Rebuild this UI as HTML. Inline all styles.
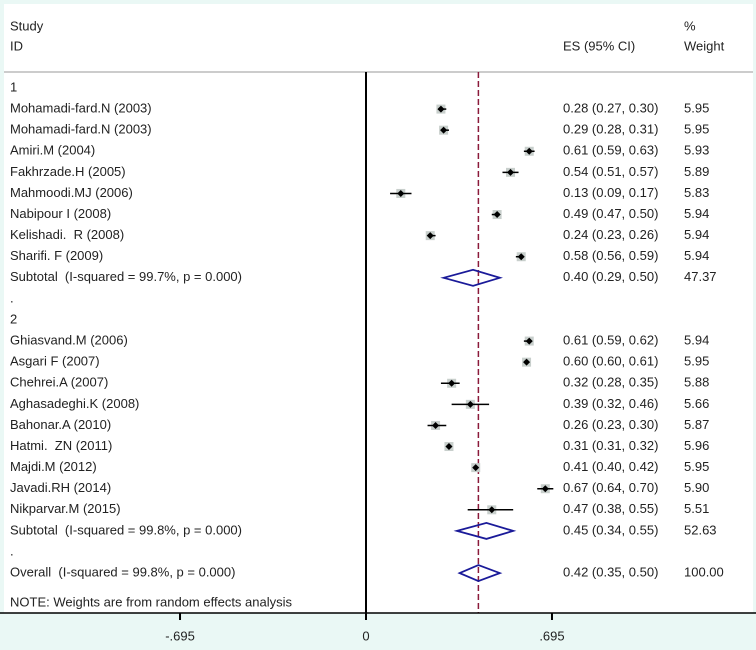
<!DOCTYPE html>
<html><head><meta charset="utf-8"><style>
html,body{margin:0;padding:0;background:#eaf8f5;}
svg{display:block;font-family:"Liberation Sans",sans-serif;}
text{white-space:pre;}
</style></head><body>
<svg id="c" width="756" height="650">
<rect x="4" y="4" width="749" height="609" fill="#fff"/>
</svg>
<script>
const labels=["1","Mohamadi-fard.N (2003)","Mohamadi-fard.N (2003)","Amiri.M (2004)","Fakhrzade.H (2005)","Mahmoodi.MJ (2006)","Nabipour I (2008)","Kelishadi.  R (2008)","Sharifi. F (2009)","Subtotal  (I-squared = 99.7%, p = 0.000)",".","2","Ghiasvand.M (2006)","Asgari F (2007)","Chehrei.A (2007)","Aghasadeghi.K (2008)","Bahonar.A (2010)","Hatmi.  ZN (2011)","Majdi.M (2012)","Javadi.RH (2014)","Nikparvar.M (2015)","Subtotal  (I-squared = 99.8%, p = 0.000)",".","Overall  (I-squared = 99.8%, p = 0.000)"];
const kinds=["h","s","s","s","s","s","s","s","s","d","h","h","s","s","s","s","s","s","s","s","s","d","h","d"];
const es=[null,0.28,0.29,0.61,0.54,0.13,0.49,0.24,0.58,0.40,null,null,0.61,0.60,0.32,0.39,0.26,0.31,0.41,0.67,0.47,0.45,null,0.42];
const lo=[null,0.27,0.28,0.59,0.51,0.09,0.47,0.23,0.56,0.29,null,null,0.59,0.60,0.28,0.32,0.23,0.31,0.40,0.64,0.38,0.34,null,0.35];
const hi=[null,0.30,0.31,0.63,0.57,0.17,0.50,0.26,0.59,0.50,null,null,0.62,0.61,0.35,0.46,0.30,0.32,0.42,0.70,0.55,0.55,null,0.50];
const weights=[null,"5.95","5.95","5.93","5.89","5.83","5.94","5.94","5.94","47.37",null,null,"5.94","5.95","5.88","5.66","5.87","5.96","5.95","5.90","5.51","52.63",null,"100.00"];
const ticks=[-0.695,0,0.695];
const tickLabels=["-.695","0",".695"];
const overall=0.42;
const svg=document.getElementById('c');const NS="http://www.w3.org/2000/svg";
const X=v=>366+v*267.6, Y=i=>88+i*21.09;
function mk(t,a,txt){const e=document.createElementNS(NS,t);for(const k in a)e.setAttribute(k,a[k]);if(txt!=null)e.textContent=txt;svg.appendChild(e);return e;}
function tx(x,y,s,n){const e=mk('text',{x:x,y:y,'font-size':13,fill:'#222','dominant-baseline':'middle'},s);

return e;}
tx(10,27,"Study","header-study");tx(10,47,"ID","header-id");tx(563,47,"ES (95% CI)","header-es");tx(684,27,"%","header-pct");tx(684,47,"Weight","header-weight");
let l=mk('line',{x1:4,y1:72,x2:753,y2:72,stroke:'#bbb','stroke-width':1.5});


l=mk('line',{x1:X(0),y1:72,x2:X(0),y2:613,stroke:'#000','stroke-width':2});


l=mk('line',{x1:X(overall),y1:72,x2:X(overall),y2:613,stroke:'#8b1a3a','stroke-width':1.5,'stroke-dasharray':'6,3'});


labels.forEach((s,i)=>{const y=Y(i);tx(10,y,s,'row-label');
if(es[i]==null)return;
tx(563,y,es[i].toFixed(2)+" ("+lo[i].toFixed(2)+", "+hi[i].toFixed(2)+")",'row-es');
tx(684,y,weights[i],'row-weight');
if(kinds[i]=="s"){
const cx=X(es[i]);
let r=mk('rect',{x:cx-4.5,y:y-4.5,width:9,height:9,fill:'#c8cfcc'});


let c=mk('line',{x1:X(lo[i]),y1:y,x2:X(hi[i]),y2:y,stroke:'#000','stroke-width':1.5});


let p=mk('polygon',{points:`${cx-3.5},${y} ${cx},${y-3.5} ${cx+3.5},${y} ${cx},${y+3.5}`,fill:'#000'});


}else{
let p=mk('polygon',{points:`${X(lo[i])},${y} ${X(es[i])},${y-8} ${X(hi[i])},${y} ${X(es[i])},${y+8}`,fill:'none',stroke:'#1a1a99','stroke-width':1.8});


}});
tx(10,603,"NOTE: Weights are from random effects analysis","note");
l=mk('line',{x1:0,y1:613,x2:756,y2:613,stroke:'#000','stroke-width':1.5});


ticks.forEach((t,k)=>{let m=mk('line',{x1:X(t),y1:613,x2:X(t),y2:620,stroke:'#000','stroke-width':2});


const e=mk('text',{x:X(t),y:637,'font-size':13,fill:'#222','text-anchor':'middle','dominant-baseline':'middle'},tickLabels[k]);

});
</script>
</body></html>
